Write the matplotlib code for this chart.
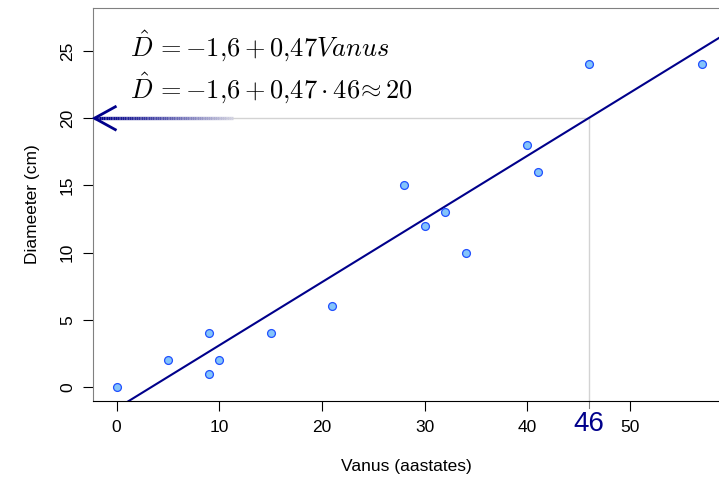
import numpy as np
import matplotlib
matplotlib.use("Agg")
import matplotlib.pyplot as plt
from matplotlib.collections import LineCollection
from matplotlib.colors import to_rgba

# Data
vanus = [0, 5, 9, 9, 10, 15, 21, 28, 30, 32, 34, 40, 41, 46, 57]
diameeter = [0, 2, 1, 4, 2, 4, 6, 15, 12, 13, 10, 18, 16, 24, 24]
intercept = -1.6
slope = 0.47
predict_age = 46
predict_d = 20
xticks = [0, 10, 20, 30, 40, 50]
yticks = [0, 5, 10, 15, 20, 25]

plt.rcParams['font.family'] = ['Liberation Sans', 'DejaVu Sans']
plt.rcParams['mathtext.fontset'] = 'cm'

fig = plt.figure(figsize=(7.19, 4.79), dpi=100)
ax = fig.add_axes([93/719, 1-401/479, 1-93/719, (401-8)/479])
xlim = (-2.29, 58.67)
ylim = (-1.04, 28.2)
ax.set_xlim(*xlim)
ax.set_ylim(*ylim)

# reference lines
ax.plot([predict_age, predict_age], [ylim[0], predict_d], color='#d3d3d3', lw=1, zorder=1)
ax.plot([xlim[0], predict_age], [predict_d, predict_d], color='#d3d3d3', lw=1, zorder=1)

# regression line
xs = np.array(xlim)
ax.plot(xs, intercept + slope * xs, color='#00008B', lw=1.5, zorder=2)

# points
ax.scatter(vanus, diameeter, s=32, facecolor='#84C4FA', edgecolor='#2050FF', lw=0.9, zorder=3)

# gradient arrow shaft
gx = np.linspace(xlim[0] + 0.1, 11.3, 80)
segs = [[(gx[i], predict_d), (gx[i+1], predict_d)] for i in range(len(gx) - 1)]
base = np.array(to_rgba('#00008B'))
cols = []
for i in range(len(gx) - 1):
    t = (i / (len(gx) - 2)) ** 1.3
    c = base.copy()
    c[:3] = c[:3] * (1 - t) + np.array([0.82, 0.82, 0.88]) * t
    cols.append(c)
lc = LineCollection(segs, colors=cols, linewidths=2.4, zorder=4)
ax.add_collection(lc)
# arrowhead
ax.plot([0.0, xlim[0] + 0.15, 0.0], [predict_d + 0.9, predict_d, predict_d - 0.9],
        color='#00008B', lw=2, solid_capstyle='butt', solid_joinstyle='miter', zorder=5, clip_on=False)

# equations
ax.text(1.3, 25.3, r'$\hat{D}\, = -1{,}6 + 0{,}47 Vanus$', fontsize=19, va='center', ha='left')
ax.text(1.3, 22.2, r'$\hat{D}\, = -1{,}6 + 0{,}47 \cdot 46 \!\approx 20$', fontsize=19, va='center', ha='left')

# spines
ax.spines['right'].set_visible(False)
ax.spines['left'].set_color('#808080')
ax.spines['top'].set_color('#808080')
ax.spines['bottom'].set_color('black')

ax.set_xticks(xticks)
ax.set_xticklabels([str(v) for v in xticks], fontsize=12.5)
ax.set_yticks(yticks)
ax.set_yticklabels([str(v) for v in yticks], fontsize=12.5, rotation=90, va='center')
ax.tick_params(axis='x', length=7, width=0.8, pad=7)
ax.tick_params(axis='y', length=7, width=0.8, pad=6)

# special tick label 46
ax.text(predict_age, -0.025, '46', transform=ax.get_xaxis_transform(), ha='center', va='top',
        fontsize=20, color='#00008B')
ax.plot([predict_age, predict_age], [0, -0.018], transform=ax.get_xaxis_transform(),
        color='#808080', lw=0.8, clip_on=False)

ax.set_xlabel('Vanus (aastates)', fontsize=12.5, labelpad=17)
ax.set_ylabel('Diameeter (cm)', fontsize=12.5, labelpad=14)

fig.savefig('out.png', dpi=100)
